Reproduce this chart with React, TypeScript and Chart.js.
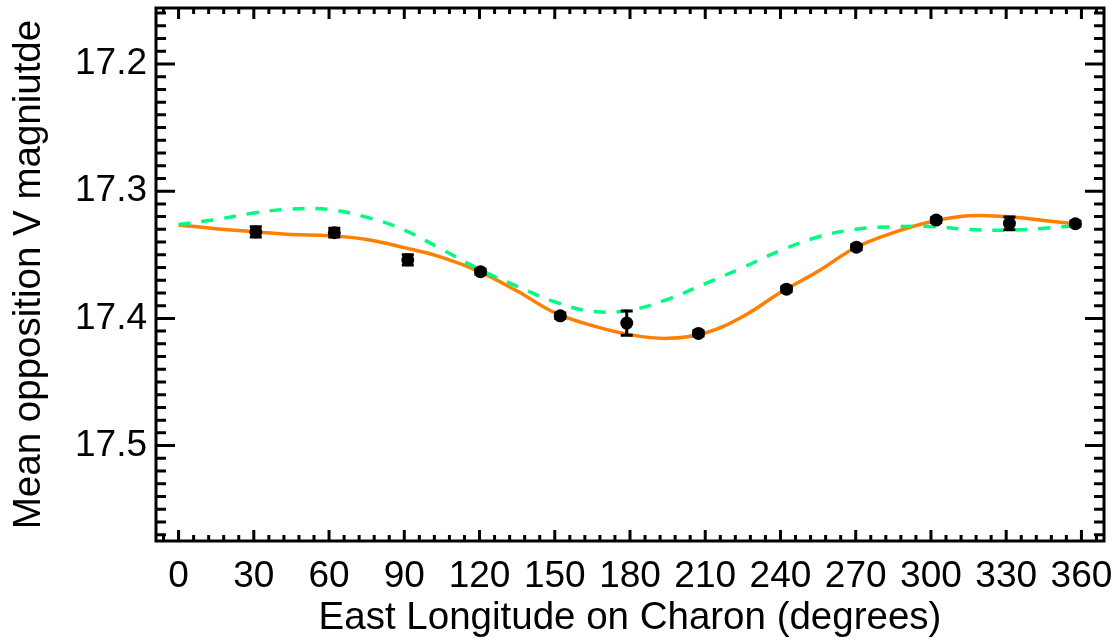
import React, { useEffect, useRef } from "react";
import { Chart, registerables } from "chart.js";

Chart.register(...registerables);

// Observed mean opposition magnitudes
const obsLon = [30.8, 62.1, 91.4, 120.4, 152.2, 178.7, 207.3, 242.4, 270.3, 302.1, 331.3, 357.6];
const obsMag = [17.332, 17.3326, 17.354, 17.3633, 17.398, 17.4037, 17.4118, 17.377, 17.344, 17.3227, 17.3253, 17.3256];
const obsErr = [0.004, 0.0035, 0.004, 0.002, 0.002, 0.0095, 0.002, 0.002, 0.002, 0.002, 0.005, 0.002];

// Model curves sampled every 15 degrees
const modelLon = [0, 15, 30, 45, 60, 75, 90, 105, 120, 135, 150, 165, 180, 195, 210, 225, 240, 255, 270, 285, 300, 315, 330, 345, 360];
const orangeMag = [17.3265, 17.3295, 17.3318, 17.334, 17.335, 17.338, 17.3444, 17.352, 17.3632, 17.3785, 17.3955, 17.4057, 17.4128, 17.4157, 17.4115, 17.3985, 17.3796, 17.363, 17.3443, 17.3326, 17.324, 17.3193, 17.32, 17.323, 17.3262];
const greenMag = [17.3262, 17.3222, 17.3172, 17.314, 17.3144, 17.3205, 17.3305, 17.3458, 17.3615, 17.3748, 17.387, 17.3945, 17.3935, 17.385, 17.3727, 17.36, 17.3467, 17.336, 17.33, 17.328, 17.3278, 17.33, 17.3306, 17.3292, 17.3265];

const xTickValues = [0, 30, 60, 90, 120, 150, 180, 210, 240, 270, 300, 330, 360];
const yTickValues = [17.2, 17.3, 17.4, 17.5];

const X_MIN = -9;
const X_MAX = 369;
const Y_MIN = 17.156;
const Y_MAX = 17.575;

const FONT = "'Liberation Sans', Arial, Helvetica, sans-serif";

const errorBars = {
  id: "errorBars",
  afterDatasetsDraw(chart: any) {
    const { ctx, scales } = chart;
    const x = scales.x;
    const y = scales.y;
    ctx.save();
    ctx.strokeStyle = "#000";
    ctx.lineWidth = 3;
    ctx.lineCap = "butt";
    for (let i = 0; i < obsLon.length; i++) {
      const px = x.getPixelForValue(obsLon[i]);
      const y1 = y.getPixelForValue(obsMag[i] - obsErr[i]);
      const y2 = y.getPixelForValue(obsMag[i] + obsErr[i]);
      ctx.beginPath();
      ctx.moveTo(px, y1);
      ctx.lineTo(px, y2);
      ctx.moveTo(px - 6, y1);
      ctx.lineTo(px + 6, y1);
      ctx.moveTo(px - 6, y2);
      ctx.lineTo(px + 6, y2);
      ctx.stroke();
    }
    ctx.restore();
  },
};

const axisFrame = {
  id: "axisFrame",
  afterDraw(chart: any) {
    const { ctx, chartArea, scales } = chart;
    const { left, right, top, bottom } = chartArea;
    const x = scales.x;
    const y = scales.y;
    ctx.save();
    ctx.strokeStyle = "#000";
    ctx.lineWidth = 3;
    ctx.lineCap = "butt";
    ctx.beginPath();
    // x ticks: major every 30, minor every 6
    for (let v = -6; v <= 366; v += 6) {
      const px = x.getPixelForValue(v);
      const len = v % 30 === 0 ? 11 : 6;
      ctx.moveTo(px, bottom);
      ctx.lineTo(px, bottom - len);
      ctx.moveTo(px, top);
      ctx.lineTo(px, top + len);
    }
    // y ticks: major every 0.1, minor every 0.01
    for (let k = 1716; k <= 1757; k++) {
      const v = k / 100;
      const py = y.getPixelForValue(v);
      const len = k % 10 === 0 ? 19 : 10;
      ctx.moveTo(left, py);
      ctx.lineTo(left + len, py);
      ctx.moveTo(right, py);
      ctx.lineTo(right - len, py);
    }
    ctx.stroke();
    ctx.strokeRect(left, top, right - left, bottom - top);
    ctx.restore();
  },
};

export default function App() {
  const canvasRef = useRef<HTMLCanvasElement | null>(null);

  useEffect(() => {
    const canvas = canvasRef.current;
    if (!canvas) return;
    const chart = new Chart(canvas, {
      type: "scatter",
      data: {
        datasets: [
          {
            label: "observed",
            data: obsLon.map((lon, i) => ({ x: lon, y: obsMag[i] })),
            showLine: false,
            pointRadius: 6.5,
            pointHoverRadius: 6.5,
            pointBackgroundColor: "#000",
            pointBorderColor: "#000",
            pointBorderWidth: 0,
            order: 1,
          },
          {
            label: "green model",
            data: modelLon.map((lon, i) => ({ x: lon, y: greenMag[i] })),
            showLine: true,
            pointRadius: 0,
            borderColor: "rgb(0,250,130)",
            borderWidth: 3.5,
            borderDash: [12, 11],
            tension: 0.4,
            order: 2,
          },
          {
            label: "orange model",
            data: modelLon.map((lon, i) => ({ x: lon, y: orangeMag[i] })),
            showLine: true,
            pointRadius: 0,
            borderColor: "rgb(255,127,0)",
            borderWidth: 3.5,
            tension: 0.4,
            order: 3,
          },
        ],
      },
      options: {
        responsive: false,
        animation: false,
        events: [],
        layout: { padding: { top: 8, right: 16, left: 0, bottom: 0 } },
        plugins: {
          legend: { display: false },
          tooltip: { enabled: false },
        },
        scales: {
          x: {
            type: "linear",
            min: X_MIN,
            max: X_MAX,
            grid: { display: false, drawTicks: false },
            border: { display: false },
            afterBuildTicks: (scale: any) => {
              scale.ticks = xTickValues.map((v) => ({ value: v }));
            },
            afterFit: (scale: any) => {
              scale.height = 102;
              scale.paddingLeft = 0;
              scale.paddingRight = 0;
            },
            ticks: {
              autoSkip: false,
              maxRotation: 0,
              padding: 14,
              color: "#000",
              font: { family: FONT, size: 37 },
              callback: (v: any) => String(v),
            },
            title: {
              display: true,
              text: "East Longitude on Charon (degrees)",
              color: "#000",
              font: { family: FONT, size: 38.5 },
              padding: { top: 0, bottom: 2 },
            },
          },
          y: {
            type: "linear",
            reverse: true,
            min: Y_MIN,
            max: Y_MAX,
            grid: { display: false, drawTicks: false },
            border: { display: false },
            afterBuildTicks: (scale: any) => {
              scale.ticks = yTickValues.map((v) => ({ value: v }));
            },
            afterFit: (scale: any) => {
              scale.width = 156;
              scale.paddingTop = 0;
              scale.paddingBottom = 0;
            },
            ticks: {
              autoSkip: false,
              padding: 9,
              color: "#000",
              font: { family: FONT, size: 37 },
              callback: (v: any) => Number(v).toFixed(1),
            },
            title: {
              display: true,
              text: "Mean opposition V magniutde",
              color: "#000",
              font: { family: FONT, size: 38.5 },
              padding: { top: 6, bottom: 0 },
            },
          },
        },
      },
      plugins: [errorBars, axisFrame],
    });
    return () => chart.destroy();
  }, []);

  return (
    <div style={{ position: "fixed", left: 0, top: 0, width: 1120, height: 643, background: "#fff" }}>
      <canvas ref={canvasRef} width={1120} height={643} style={{ display: "block" }} />
    </div>
  );
}
